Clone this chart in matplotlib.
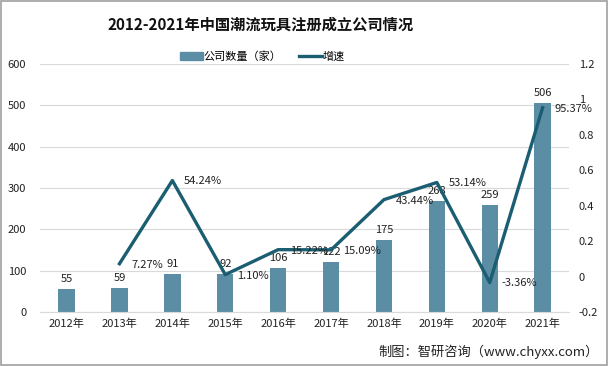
import matplotlib
matplotlib.use("Agg")
import matplotlib.pyplot as plt
import numpy as np
from matplotlib.patches import Patch
from matplotlib.lines import Line2D

plt.rcParams['font.family'] = ['Noto Sans CJK SC', 'DejaVu Sans']

years = ['2012年', '2013年', '2014年', '2015年', '2016年', '2017年', '2018年', '2019年', '2020年', '2021年']
counts = [55, 59, 91, 92, 106, 122, 175, 268, 259, 506]
growth = [None, 0.0727, 0.5424, 0.0110, 0.1522, 0.1509, 0.4344, 0.5314, -0.0336, 0.9537]
growth_labels = ['', '7.27%', '54.24%', '1.10%', '15.22%', '15.09%', '43.44%', '53.14%', '-3.36%', '95.37%']

bar_color = '#5b8ea4'
line_color = '#1b5e72'
fs = 8

fig = plt.figure(figsize=(6.08, 3.66), dpi=100)
ax = fig.add_axes([0.066, 0.1475, 0.87, 0.6775])
x = np.arange(len(years))
ax.bar(x, counts, width=0.31, color=bar_color, zorder=2)
ax.set_ylim(0, 600)
ax.set_xlim(-0.5, len(years) - 0.5)
ax.set_yticks(range(0, 601, 100))
ax.grid(axis='y', color='#d9d9d9', linewidth=0.8, zorder=0)
for s in ['top', 'right', 'left']:
    ax.spines[s].set_visible(False)
ax.spines['bottom'].set_color('#d9d9d9')
ax.tick_params(axis='both', length=0, labelsize=fs, colors='#222222')
ax.tick_params(axis='y', pad=10)
ax.tick_params(axis='x', pad=5)
ax.set_xticks(x)
ax.set_xticklabels(years)
for xi, c in zip(x, counts):
    ax.text(xi, c + 12, str(c), ha='center', va='bottom', fontsize=fs, color='#222222', zorder=4)

ax2 = ax.twinx()
gx = [xi for xi, g in zip(x, growth) if g is not None]
gy = [g for g in growth if g is not None]
ax2.plot(gx, gy, color=line_color, linewidth=2.4, zorder=3)
ax2.set_ylim(-0.2, 1.2)
ax2.set_yticks([-0.2, 0, 0.2, 0.4, 0.6, 0.8, 1.0, 1.2])
ax2.set_yticklabels(['-0.2', '0', '0.2', '0.4', '0.6', '0.8', '1', '1.2'])
for s in ['top', 'right', 'left', 'bottom']:
    ax2.spines[s].set_visible(False)
ax2.tick_params(axis='y', length=0, labelsize=fs, colors='#222222', pad=7)
for xi, g, lab in zip(x, growth, growth_labels):
    if g is None:
        continue
    ax2.text(xi + 0.22, g - 0.005, lab, ha='left', va='center', fontsize=fs, color='#222222', zorder=4)

handles = [Patch(color=bar_color, label='公司数量（家）'), Line2D([0], [0], color=line_color, lw=2.4, label='增速')]
fig.legend(handles=handles, loc='center', bbox_to_anchor=(0.432, 0.845), ncol=2, frameon=False,
           fontsize=fs, handlelength=2.0, handleheight=0.8, handletextpad=0.1, columnspacing=1.6)

fig.text(0.428, 0.932, '2012-2021年中国潮流玩具注册成立公司情况', ha='center', va='center',
         fontsize=11, fontweight='bold', color='#111111')
fig.text(0.985, 0.038, '制图：智研咨询（www.chyxx.com）', ha='right', va='center', fontsize=9.5, color='#222222')

fig.patches.append(plt.Rectangle((0.002, 0.003), 0.996, 0.994, transform=fig.transFigure,
                                 fill=False, edgecolor='#a0a0a0', linewidth=1.2))
fig.savefig('out.png', dpi=100)
